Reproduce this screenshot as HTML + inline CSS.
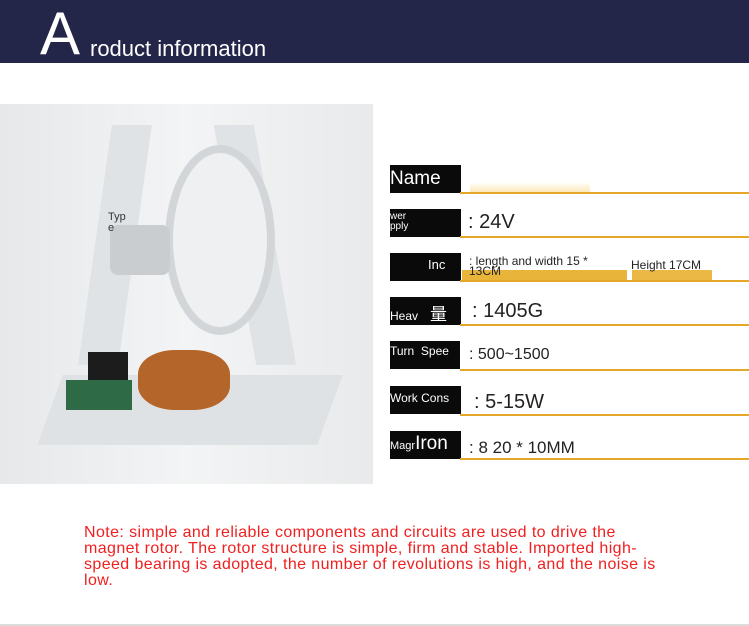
<!DOCTYPE html>
<html><head><meta charset="utf-8"><style>
*{margin:0;padding:0;box-sizing:border-box}
body{width:749px;height:626px;background:#fff;position:relative;overflow:hidden;font-family:"Liberation Sans",sans-serif}
.a{position:absolute}
.hdr{left:0;top:0;width:749px;height:63px;background:#242649}
.lbl{position:absolute;left:390px;width:71px;height:28px;background:#0a0a0a;color:#fff;overflow:hidden}
.ln{position:absolute;left:460px;width:289px;height:1.5px;background:#e4a72a}
.v{position:absolute;color:#222}
</style></head><body>
<div class="a hdr"></div>
<div class="a" style="left:40px;top:4px;font-size:60px;color:#fff;line-height:60px">A</div>
<div class="a" style="left:90px;top:36px;font-size:22px;color:#fff">roduct information</div>
<div class="a" style="left:0;top:104px;width:373px;height:380px;background:linear-gradient(90deg,#e6e8ea,#f3f4f5 50%,#e9eaeb)"></div>
<div class="a" style="left:95px;top:125px;width:40px;height:240px;background:#e0e3e5;transform:skewX(-8deg)"></div>
<div class="a" style="left:235px;top:125px;width:40px;height:240px;background:#e0e3e5;transform:skewX(10deg)"></div>
<div class="a" style="left:165px;top:145px;width:110px;height:190px;border-radius:50%;border:8px solid #d3d6d9;background:#eef0f1"></div>
<div class="a" style="left:110px;top:225px;width:60px;height:50px;background:#c9cdd0;border-radius:8px"></div>
<div class="a" style="left:50px;top:375px;width:280px;height:70px;background:#dfe2e4;transform:skewX(-20deg)"></div>
<div class="a" style="left:138px;top:350px;width:92px;height:60px;border-radius:40%;background:#b4652a"></div>
<div class="a" style="left:88px;top:352px;width:40px;height:42px;background:#1c1c1c"></div>
<div class="a" style="left:66px;top:380px;width:66px;height:30px;background:#2f6a46"></div>
<div class="a" style="left:108px;top:212px;font-size:11px;color:#333;line-height:11px">Typ<br>e</div>

<div class="lbl" style="top:165px;font-size:19px;padding-top:3px">Name</div><div class="ln" style="top:192px"></div>
<div class="a" style="left:470px;top:182px;width:120px;height:10px;background:linear-gradient(#fff,#fbe9bb)"></div>
<div class="lbl" style="top:209px;font-size:10px;line-height:10px;padding-top:3px">wer<br>pply</div><div class="ln" style="top:236px"></div>
<div class="v" style="left:468px;top:211px;font-size:20px">: 24V</div>
<div class="lbl" style="top:253px;font-size:13px;padding:4px 0 0 38px">Inc</div><div class="ln" style="top:280px"></div>
<div class="a" style="left:462px;top:270px;width:165px;height:10px;background:#e8b43a"></div>
<div class="a" style="left:632px;top:270px;width:80px;height:10px;background:#ebb846"></div>
<div class="v" style="left:469px;top:256px;font-size:12px;line-height:10px">: length and width 15 *<br>13CM</div>
<div class="v" style="left:631px;top:258px;font-size:12px">Height 17CM</div>
<div class="lbl" style="top:297px;font-size:12px;padding-top:3px">Heav<span style="font-size:17px;margin-left:12px;font-family:'Noto Sans CJK SC',sans-serif">量</span></div><div class="ln" style="top:324px"></div>
<div class="v" style="left:472px;top:300px;font-size:20px">: 1405G</div>
<div class="lbl" style="top:341px;font-size:12px;padding-top:3px;width:70px">Turn &nbsp;Spee</div><div class="ln" style="top:369px"></div>
<div class="v" style="left:469px;top:346px;font-size:16px">: 500~1500</div>
<div class="lbl" style="top:386px;font-size:12px;padding-top:5px">Work Cons</div><div class="ln" style="top:414px"></div>
<div class="v" style="left:474px;top:391px;font-size:20px">: 5-15W</div>
<div class="lbl" style="top:431px;font-size:11px;padding-top:2px">Magr<span style="font-size:19px">Iron</span></div><div class="ln" style="top:458px"></div>
<div class="v" style="left:469px;top:438px;font-size:17px">: 8 20 * 10MM</div>

<div class="a" style="left:84px;top:525px;white-space:nowrap;font-size:16px;letter-spacing:0.4px;line-height:16px;color:#f02020">Note: simple and reliable components and circuits are used to drive the<br>magnet rotor. The rotor structure is simple, firm and stable. Imported high-<br>speed bearing is adopted, the number of revolutions is high, and the noise is<br>low.</div>
<div class="a" style="left:0;top:624px;width:749px;height:2px;background:#ddd"></div>
</body></html>
